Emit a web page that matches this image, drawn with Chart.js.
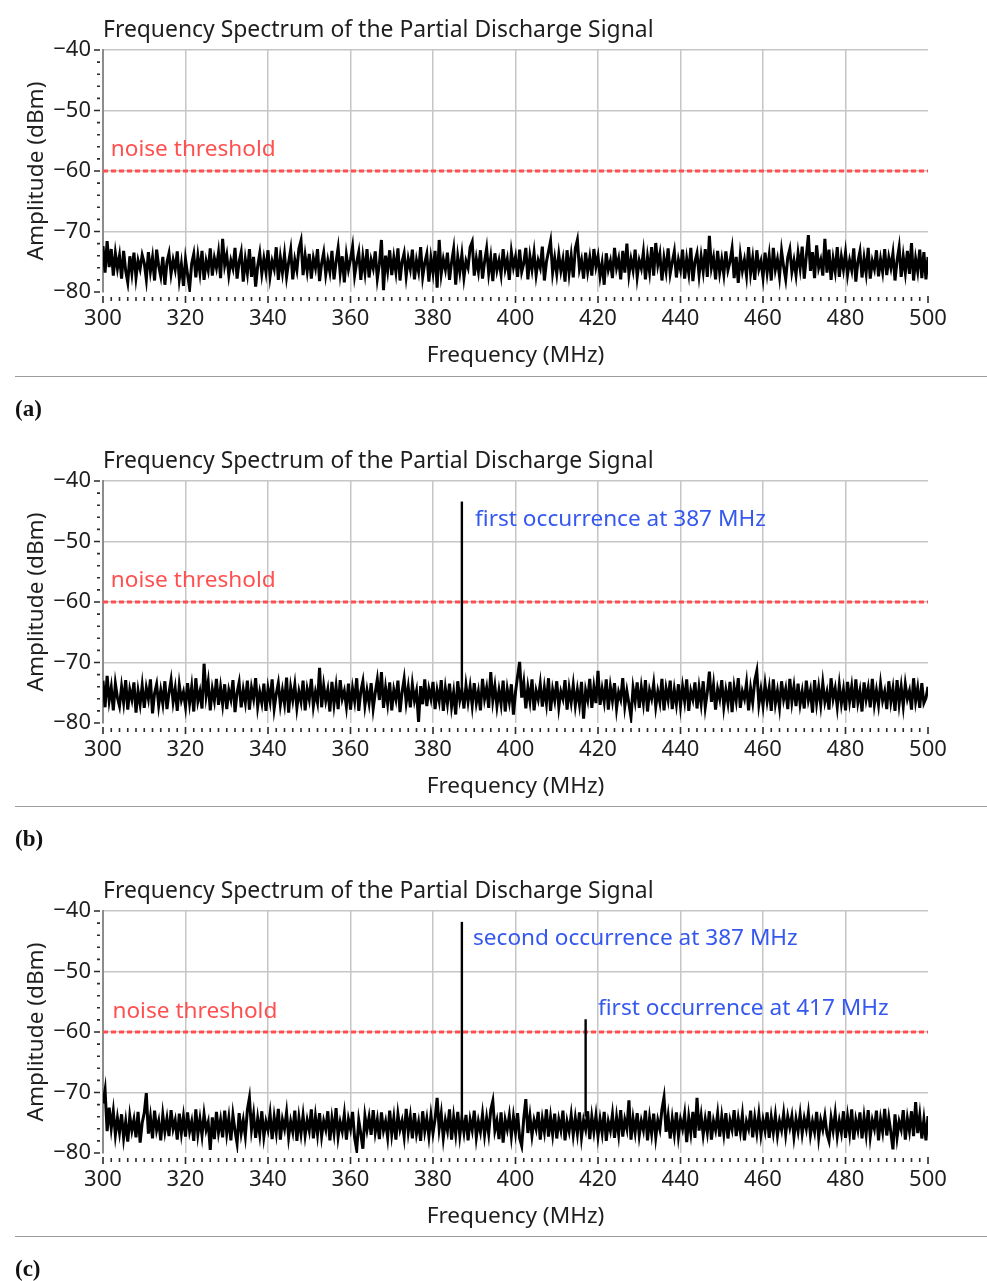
<!DOCTYPE html>
<html>
<head>
<meta charset="utf-8">
<script src="https://cdn.jsdelivr.net/npm/chart.js@4.4.1/dist/chart.umd.min.js"></script>
<style>
html,body{margin:0;padding:0;background:#fff;}
#page{position:relative;width:987px;height:1281px;overflow:hidden;background:#fff;}
.panel{position:absolute;left:0;width:987px;height:430px;}
.sep{position:absolute;left:15px;width:972px;height:0;border-top:1px solid #9c9c9c;}
.lab{position:absolute;left:15px;font-family:"Liberation Serif","DejaVu Serif",serif;font-weight:bold;font-size:23px;line-height:24px;color:#111;}
</style>
</head>
<body>
<div id="page">
  <div class="panel" style="top:0px"><canvas id="chartA" width="987" height="430"></canvas></div>
  <div class="sep" style="top:376px"></div>
  <div class="lab" style="top:397px">(a)</div>
  <div class="panel" style="top:431px"><canvas id="chartB" width="987" height="430"></canvas></div>
  <div class="sep" style="top:806px"></div>
  <div class="lab" style="top:827px">(b)</div>
  <div class="panel" style="top:861px"><canvas id="chartC" width="987" height="430"></canvas></div>
  <div class="sep" style="top:1236px"></div>
  <div class="lab" style="top:1257px">(c)</div>
</div>
<script>
// ---------------- data ----------------
const chartTitle = 'Frequency Spectrum of the Partial Discharge Signal';
const xAxisTitle = 'Frequency (MHz)';
const yAxisTitle = 'Amplitude (dBm)';
const freqMin = 300, freqMax = 500;
const ampMin = -80, ampMax = -40;
const thresholdDbm = -60;

// amplitude samples (dBm), evenly spaced from 300 to 500 MHz
const ampA = [
-72.4,-76.8,-71.6,-75.9,-72.9,-77.3,-73.6,-76.1,-74.0,-77.8,-73.2,-76.5,-78.4,-74.1,-76.9,-73.5,-77.6,-74.8,-76.2,-73.9,
-75.2,-77.9,-73.4,-76.6,-74.3,-78.1,-73.0,-75.7,-77.4,-74.2,-78.8,-75.1,-73.6,-77.0,-74.7,-76.3,-73.3,-77.9,-75.4,-79.0,
-74.6,-77.1,-79.4,-75.3,-73.7,-77.6,-74.1,-76.8,-73.2,-78.0,-74.9,-76.4,-72.8,-77.3,-74.4,-76.0,-73.5,-77.7,-71.2,-75.6,
-73.9,-77.2,-74.8,-76.1,-72.7,-77.8,-75.0,-73.4,-78.3,-74.6,-76.9,-72.9,-77.5,-74.2,-79.1,-75.7,-73.6,-77.0,-74.5,-76.7,
-73.1,-77.4,-74.9,-76.2,-72.6,-78.0,-74.3,-76.8,-73.8,-77.5,-75.1,-73.0,-77.9,-74.7,-76.4,-72.8,-71.5,-77.2,-74.0,-76.6,
-73.7,-77.8,-74.4,-76.0,-72.9,-78.2,-75.3,-73.5,-77.1,-74.8,-76.7,-73.2,-77.9,-75.0,-72.7,-76.9,-74.1,-78.4,-73.9,-76.3,
-74.6,-72.5,-77.3,-75.1,-73.4,-78.0,-74.2,-76.8,-72.9,-77.6,-74.7,-76.1,-73.3,-77.8,-75.4,-71.4,-79.7,-74.0,-76.5,-73.1,
-77.2,-74.3,-76.7,-72.8,-78.1,-75.0,-73.6,-77.4,-74.5,-76.2,-73.0,-77.9,-74.8,-76.6,-72.6,-77.5,-75.2,-73.7,-78.3,-74.4,
-76.8,-73.2,-79.3,-71.4,-77.0,-74.6,-76.3,-73.5,-78.0,-75.1,-72.9,-78.8,-74.2,-76.7,-73.8,-77.6,-74.9,-76.0,-72.6,-71.7,
-77.3,-74.5,-76.6,-73.1,-77.8,-75.0,-72.8,-76.9,-74.3,-78.2,-73.6,-76.4,-74.8,-77.1,-72.9,-76.2,-74.6,-78.0,-73.4,-75.9,
-74.2,-77.5,-73.0,-76.7,-75.3,-72.7,-77.9,-74.1,-76.3,-73.5,-77.2,-74.8,-76.0,-72.5,-78.1,-75.0,-73.3,-71.6,-76.8,-74.4,
-77.0,-73.8,-76.5,-74.6,-78.3,-73.1,-76.9,-74.0,-77.6,-72.8,-71.4,-76.2,-74.7,-77.8,-73.5,-76.6,-74.3,-77.3,-72.9,-75.8,
-74.1,-77.4,-75.2,-78.8,-73.6,-76.3,-74.9,-77.7,-72.7,-76.0,-74.5,-77.9,-73.2,-76.8,-72.0,-77.1,-74.6,-76.4,-73.0,-77.5,
-74.8,-76.1,-73.4,-77.9,-74.2,-76.7,-72.6,-77.3,-71.9,-75.5,-73.7,-78.1,-74.4,-76.6,-72.8,-77.0,-75.1,-73.3,-77.6,-74.7,
-76.3,-73.0,-77.8,-74.5,-76.9,-72.7,-78.2,-75.0,-73.6,-77.2,-74.1,-76.6,-72.9,-77.5,-70.7,-76.0,-74.3,-77.9,-73.2,-76.8,
-74.6,-77.1,-73.3,-76.4,-75.0,-72.8,-77.7,-74.2,-78.5,-73.9,-76.5,-74.7,-77.3,-72.6,-76.9,-74.4,-78.0,-73.1,-76.2,-74.9,
-77.6,-73.5,-76.8,-74.0,-78.1,-72.7,-76.3,-74.6,-77.4,-73.2,-75.8,-77.9,-74.3,-72.9,-76.7,-74.8,-77.2,-73.6,-76.1,-72.5,
-77.8,-74.1,-70.6,-76.5,-73.4,-77.7,-72.3,-76.0,-74.7,-77.3,-71.2,-76.8,-73.0,-78.0,-74.5,-76.6,-72.6,-77.5,-74.2,-76.3,
-73.5,-77.1,-74.8,-76.4,-72.8,-78.3,-75.0,-73.3,-77.6,-74.4,-76.9,-72.7,-77.8,-74.9,-76.2,-73.1,-77.4,-74.6,-76.7,-72.9,
-77.2,-74.3,-76.0,-73.6,-78.1,-74.8,-72.6,-77.5,-74.1,-76.8,-73.2,-77.0,-71.9,-78.1,-74.5,-76.6,-73.0,-77.7,-73.4,-77.9,
-74.2
];
const ampB = [
-73.0,-77.4,-72.2,-76.3,-74.1,-77.9,-73.5,-75.8,-77.2,-74.0,-76.6,-72.9,-77.8,-74.5,-76.1,-73.3,-78.3,-74.7,-76.9,-73.8,
-77.5,-74.2,-76.0,-72.8,-78.4,-75.1,-73.6,-77.1,-74.6,-76.8,-73.1,-77.7,-75.0,-72.9,-76.5,-74.3,-78.0,-73.7,-76.2,-74.9,
-77.3,-73.4,-76.7,-74.0,-78.1,-72.6,-76.4,-74.8,-77.6,-70.2,-75.5,-73.2,-77.9,-74.4,-76.3,-72.7,-77.0,-74.1,-76.9,-73.6,
-77.7,-74.6,-76.1,-72.9,-78.2,-75.0,-73.3,-77.4,-74.5,-76.6,-73.0,-77.8,-74.2,-76.0,-72.6,-77.3,-74.9,-76.7,-73.5,-78.0,
-74.3,-76.4,-72.8,-77.6,-75.2,-73.4,-77.0,-74.6,-76.8,-72.5,-78.3,-74.1,-76.2,-73.7,-77.5,-74.8,-76.5,-73.0,-77.9,-74.4,
-76.1,-72.7,-77.2,-74.9,-76.6,-70.9,-77.4,-73.8,-76.3,-74.5,-78.1,-73.2,-76.9,-74.0,-77.7,-72.9,-76.0,-74.7,-77.3,-73.5,
-77.8,-74.3,-76.4,-72.6,-78.0,-74.8,-73.1,-77.1,-74.6,-76.7,-73.4,-77.6,-75.0,-72.8,-76.2,-71.6,-77.5,-74.2,-76.8,-73.3,
-77.9,-74.5,-76.1,-73.0,-78.2,-74.9,-72.7,-76.6,-74.1,-77.4,-73.6,-76.3,-74.7,-79.8,-73.9,-76.9,-72.8,-77.2,-74.4,-76.0,
-73.2,-77.7,-74.6,-76.4,-72.9,-78.0,-74.3,-76.8,-73.5,-77.3,-74.9,-78.6,-73.1,-76.2,-74.5,-77.6,-73.8,-76.5,-74.0,-77.1,
-73.4,-76.7,-74.8,-77.9,-72.7,-76.0,-74.2,-77.5,-71.6,-76.3,-73.9,-77.2,-74.6,-76.9,-73.0,-78.1,-74.4,-76.5,-73.6,-78.6,
-74.9,-72.3,-69.9,-75.8,-73.3,-77.6,-74.1,-76.4,-72.8,-77.9,-74.7,-76.1,-73.5,-77.3,-74.2,-76.8,-72.6,-78.0,-74.5,-76.3,
-73.1,-77.4,-74.8,-76.0,-72.9,-77.8,-74.3,-76.6,-73.7,-77.1,-74.5,-76.9,-73.2,-79.3,-74.6,-76.2,-72.7,-77.5,-74.1,-76.7,
-71.4,-77.0,-74.4,-76.5,-72.8,-77.8,-74.0,-76.3,-73.4,-77.6,-74.9,-76.1,-72.6,-77.2,-74.7,-76.8,-79.0,-74.2,-76.4,-73.3,
-77.5,-74.1,-76.7,-72.9,-78.1,-74.6,-76.0,-73.5,-77.3,-74.8,-76.6,-72.7,-77.9,-74.3,-76.2,-73.0,-77.7,-74.5,-76.9,-73.6,
-77.2,-74.0,-76.4,-72.8,-78.0,-74.7,-76.1,-73.3,-77.6,-74.2,-76.8,-73.1,-77.4,-74.9,-71.5,-76.5,-73.7,-77.8,-74.4,-76.0,
-72.9,-77.3,-74.6,-76.7,-73.2,-78.2,-74.1,-76.3,-72.6,-77.5,-74.8,-76.0,-73.4,-77.9,-74.3,-76.6,-73.0,-71.4,-76.9,-74.5,
-77.1,-73.6,-76.4,-74.2,-78.0,-72.8,-76.8,-74.7,-77.4,-73.1,-76.1,-74.4,-77.7,-72.7,-76.5,-74.0,-77.2,-73.5,-76.9,-74.8,
-77.6,-73.0,-76.2,-74.6,-78.3,-72.9,-76.7,-74.1,-77.0,-73.4,-76.5,-74.9,-77.8,-72.6,-76.0,-74.3,-77.3,-73.7,-76.8,-74.5,
-77.9,-73.2,-76.4,-74.0,-77.5,-72.8,-76.6,-74.7,-78.1,-73.3,-76.1,-74.2,-77.4,-72.7,-76.9,-74.6,-77.0,-73.5,-76.3,-74.8,
-77.7,-73.1,-76.5,-74.3,-78.0,-72.9,-76.8,-74.0,-77.2,-73.6,-76.0,-74.7,-77.8,-72.6,-76.4,-74.2,-77.5,-73.4,-76.7,-75.9,
-74.0
];
const ampC = [
-71.8,-69.6,-76.4,-72.5,-75.9,-73.1,-77.0,-74.2,-76.6,-73.6,-77.5,-74.8,-78.1,-73.9,-76.3,-74.5,-77.4,-73.2,-78.3,-75.0,
-73.4,-70.1,-76.8,-74.1,-77.6,-73.0,-76.2,-74.7,-77.9,-73.7,-76.5,-74.3,-77.2,-72.9,-76.0,-74.6,-77.8,-73.5,-76.7,-74.0,
-77.3,-73.3,-76.4,-74.8,-78.0,-72.8,-76.9,-74.4,-77.1,-73.6,-76.2,-74.9,-79.5,-74.1,-77.7,-73.2,-76.6,-74.5,-77.4,-73.0,
-76.8,-74.2,-77.9,-73.7,-76.3,-78.4,-73.4,-76.7,-74.6,-77.2,-72.9,-70.9,-76.1,-73.6,-77.5,-74.3,-76.9,-73.1,-77.3,-74.8,
-76.2,-73.5,-77.7,-74.1,-76.6,-72.7,-77.8,-74.5,-76.0,-73.3,-77.4,-74.8,-76.5,-73.0,-78.0,-74.2,-76.8,-73.8,-77.1,-74.6,
-76.3,-72.8,-77.6,-74.0,-76.9,-73.4,-77.2,-74.7,-76.1,-73.1,-77.9,-74.3,-76.7,-72.6,-77.3,-74.9,-76.4,-73.6,-77.8,-74.4,
-76.0,-73.2,-77.5,-79.5,-74.6,-76.8,-79.3,-73.9,-76.2,-74.1,-77.0,-72.9,-76.6,-74.5,-77.7,-73.3,-76.3,-74.8,-77.4,-73.0,
-76.9,-74.2,-77.8,-73.6,-76.1,-74.7,-77.3,-72.7,-76.5,-74.0,-77.6,-73.4,-76.8,-74.9,-78.0,-73.1,-76.4,-74.3,-77.2,-73.8,
-76.7,-74.4,-70.9,-76.0,-73.5,-77.5,-74.6,-76.3,-72.8,-77.8,-74.1,-76.9,-73.2,-77.1,-74.3,-76.6,-73.7,-77.9,-74.5,-76.2,
-73.0,-77.4,-74.8,-76.5,-73.6,-77.0,-74.2,-76.8,-72.9,-71.4,-76.3,-74.7,-77.7,-73.3,-78.3,-74.5,-76.1,-73.8,-77.2,-74.0,
-76.6,-73.4,-77.5,-78.8,-74.3,-71.1,-76.7,-73.9,-77.1,-74.6,-76.0,-73.2,-77.8,-74.4,-76.5,-72.8,-77.3,-74.1,-76.9,-73.5,
-77.6,-74.5,-76.2,-73.0,-77.9,-74.8,-76.4,-73.7,-77.0,-74.2,-76.8,-73.3,-77.4,-74.6,-76.1,-73.1,-77.7,-74.0,-76.5,-73.8,
-77.2,-74.4,-76.7,-73.2,-78.0,-74.8,-76.3,-73.6,-77.5,-74.1,-76.9,-72.9,-77.3,-74.5,-76.0,-71.3,-77.8,-74.3,-76.6,-73.4,
-77.1,-74.7,-76.2,-73.0,-77.9,-74.2,-76.8,-73.5,-77.4,-74.6,-76.1,-72.8,-70.8,-76.5,-73.9,-77.6,-74.3,-76.9,-73.3,-77.2,
-74.5,-76.0,-73.6,-78.2,-74.1,-76.7,-73.2,-77.5,-70.9,-76.3,-73.8,-77.0,-74.4,-76.6,-73.1,-77.8,-74.7,-76.2,-73.5,-77.3,
-74.0,-76.8,-73.4,-77.6,-74.6,-76.1,-72.9,-77.2,-74.3,-76.5,-73.7,-77.9,-74.8,-76.0,-73.0,-77.4,-74.2,-76.7,-73.6,-77.0,
-74.5,-76.3,-73.3,-77.5,-74.1,-76.6,-73.8,-77.1,-74.7,-76.2,-73.5,-76.9,-74.0,-75.8,-73.9,-77.3,-74.4,-76.4,-73.6,-76.8,
-74.3,-76.0,-73.4,-77.0,-74.8,-76.5,-73.2,-77.4,-74.6,-76.1,-73.9,-76.8,-78.0,-74.2,-76.3,-73.5,-77.2,-74.7,-76.6,-73.1,
-77.5,-74.0,-76.7,-72.8,-77.8,-74.5,-76.2,-73.3,-77.6,-74.1,-76.9,-72.9,-77.3,-74.6,-76.0,-73.0,-77.9,-74.4,-76.5,-72.7,
-77.1,-74.2,-76.6,-79.4,-73.6,-77.4,-74.8,-76.1,-72.9,-77.8,-74.3,-76.4,-73.1,-77.2,-71.6,-76.7,-73.8,-77.6,-74.5,-77.9,
-73.9
];

// narrow emission peaks (MHz, base dBm, peak dBm)
const peakFreqB = [387];
const peakBaseB = [-74.5];
const peakTopB  = [-43.4];
const peakFreqC = [387, 417];
const peakBaseC = [-74.3, -74.0];
const peakTopC  = [-41.8, -57.9];

// text annotations (text, MHz, dBm, kind)
const noteTextA = ['noise threshold'];
const noteFreqA = [301.9];
const noteAmpA  = [-56.5];
const noteKindA = ['threshold'];
const noteTextB = ['noise threshold', 'first occurrence at 387 MHz'];
const noteFreqB = [301.9, 390.2];
const noteAmpB  = [-56.5, -46.3];
const noteKindB = ['threshold', 'event'];
const noteTextC = ['noise threshold', 'second occurrence at 387 MHz', 'first occurrence at 417 MHz'];
const noteFreqC = [302.3, 389.7, 420.0];
const noteAmpC  = [-56.6, -44.6, -56.1];
const noteKindC = ['threshold', 'event', 'event'];

// ---------------- rendering ----------------
const FONT = '"Noto Sans", "Open Sans", "DejaVu Sans", sans-serif';
const TEXT_COLOR = '#1e1e1e';
const GRID_COLOR = '#c6c6c6';
const NOTE_COLORS = { threshold: '#ff5050', event: '#3558ee' };
const TXT = 22.6;

const decorPlugin = {
  id: 'decor',
  afterDraw(chart, args, opts) {
    const { ctx, chartArea: a, scales: { x, y } } = chart;
    ctx.save();
    ctx.strokeStyle = '#2a2a2a';
    ctx.lineWidth = 1.6;
    ctx.beginPath();
    for (let v = x.min; v <= x.max + 1e-9; v += 2) {
      const px = x.getPixelForValue(v);
      const major = Math.abs(v % 20) < 1e-9;
      ctx.moveTo(px, a.bottom + (major ? 4 : 5));
      ctx.lineTo(px, a.bottom + (major ? 11 : 9));
    }
    for (let v = y.min; v <= y.max + 1e-9; v += 2) {
      const py = y.getPixelForValue(v);
      const major = Math.abs(v % 10) < 1e-9;
      ctx.moveTo(a.left - (major ? 9 : 6), py);
      ctx.lineTo(a.left - 3, py);
    }
    ctx.stroke();
    ctx.font = TXT + 'px ' + FONT;
    ctx.textBaseline = 'middle';
    ctx.textAlign = 'left';
    (opts.notes || []).forEach(n => {
      ctx.fillStyle = NOTE_COLORS[n.kind];
      ctx.fillText(n.text, x.getPixelForValue(n.f), y.getPixelForValue(n.a));
    });
    ctx.restore();
  }
};
Chart.register(decorPlugin);

function buildNotes(texts, freqs, amps, kinds) {
  return texts.map((t, i) => ({ text: t, f: freqs[i], a: amps[i], kind: kinds[i] }));
}

function makeChart(id, amps, pFreq, pBase, pTop, notes) {
  const step = (freqMax - freqMin) / (amps.length - 1);
  const freqs = amps.map((_, i) => freqMin + i * step);
  const datasets = [{
    data: amps.map((v, i) => ({ x: freqs[i], y: v })),
    borderColor: '#000', borderWidth: 3, pointRadius: 0, tension: 0, order: 1
  }];
  pFreq.forEach((f, i) => {
    datasets.push({
      data: [{ x: f, y: pBase[i] }, { x: f, y: pTop[i] }],
      borderColor: '#000', borderWidth: 2.4, pointRadius: 0, order: 0
    });
  });
  datasets.push({
    data: [{ x: freqMin, y: thresholdDbm }, { x: freqMax, y: thresholdDbm }],
    borderColor: '#ff4f4f', borderWidth: 3, borderDash: [5, 3], pointRadius: 0, order: 2
  });

  new Chart(document.getElementById(id), {
    type: 'line',
    data: { datasets },
    options: {
      responsive: false,
      animation: false,
      events: [],
      layout: { padding: { left: 0, right: 59, top: 0, bottom: 0 } },
      plugins: {
        legend: { display: false },
        tooltip: { enabled: false },
        title: {
          display: true, text: chartTitle, align: 'start', fullSize: false,
          color: TEXT_COLOR, font: { family: FONT, size: 22.9, weight: 400, lineHeight: 1.2 },
          padding: { top: 16.3, bottom: 6.2 }
        },
        decor: { notes }
      },
      scales: {
        x: {
          type: 'linear', min: freqMin, max: freqMax,
          afterFit(s) { s.height = 138; },
          ticks: {
            stepSize: 20, autoSkip: false, maxRotation: 0, padding: 14,
            color: TEXT_COLOR, font: { family: FONT, size: 22 },
            callback: v => String(v)
          },
          grid: {
            drawTicks: false, lineWidth: 1.5,
            color: c => (c.tick && c.tick.value > freqMin && c.tick.value < freqMax) ? GRID_COLOR : 'rgba(0,0,0,0)'
          },
          border: { display: false },
          title: {
            display: true, text: xAxisTitle, color: TEXT_COLOR,
            font: { family: FONT, size: TXT }, padding: { top: 0, bottom: 61 }
          }
        },
        y: {
          type: 'linear', min: ampMin, max: ampMax,
          afterFit(s) { s.width = 103; },
          ticks: {
            stepSize: 10, padding: 12, color: TEXT_COLOR, font: { family: FONT, size: 22 },
            callback: v => String(v).replace('-', '\u2212')
          },
          grid: {
            drawTicks: false, lineWidth: 1.5,
            color: c => (c.tick && c.tick.value > ampMin) ? GRID_COLOR : 'rgba(0,0,0,0)'
          },
          border: { display: true, color: '#8c8c8c', width: 2 },
          title: {
            display: true, text: yAxisTitle, color: TEXT_COLOR,
            font: { family: FONT, size: TXT }, padding: { top: 23, bottom: 0 }
          }
        }
      }
    }
  });
}

makeChart('chartA', ampA, [], [], [], buildNotes(noteTextA, noteFreqA, noteAmpA, noteKindA));
makeChart('chartB', ampB, peakFreqB, peakBaseB, peakTopB, buildNotes(noteTextB, noteFreqB, noteAmpB, noteKindB));
makeChart('chartC', ampC, peakFreqC, peakBaseC, peakTopC, buildNotes(noteTextC, noteFreqC, noteAmpC, noteKindC));
</script>
</body>
</html>
